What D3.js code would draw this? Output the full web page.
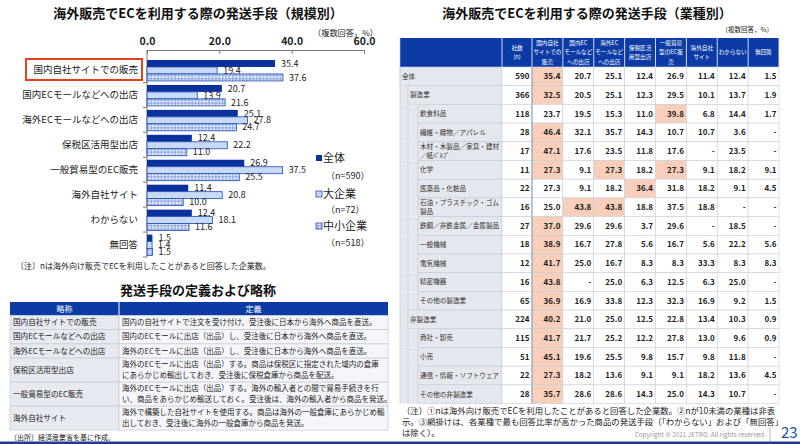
<!DOCTYPE html>
<html><head><meta charset="utf-8">
<script src="https://cdn.jsdelivr.net/npm/d3@7"></script>
<style>
body{margin:0;background:#fff;}
svg{display:block;font-family:"Noto Sans CJK JP","Noto Sans",sans-serif;}
</style></head><body>
<svg id="c" width="800" height="444"></svg>
<script>
// ---------- DATA ----------
const sizeCategories = ["国内自社サイトでの販売","国内ECモールなどへの出店","海外ECモールなどへの出店","保税区活用型出店","一般貿易型のEC販売","海外自社サイト","わからない","無回答"];
const seriesNames = ["全体","大企業","中小企業"];
const seriesN = ["（n=590）","（n=72）","（n=518）"];
const valuesAll   = [35.4,20.7,25.1,12.4,26.9,11.4,12.4,1.5];
const valuesLarge = [19.4,13.9,27.8,22.2,37.5,20.8,18.1,1.4];
const valuesSME   = [37.6,21.6,24.7,11.0,25.5,10.0,11.6,1.5];
const xTicks = [0,20,40,60];

const defAbbr = ["国内自社サイトでの販売","国内ECモールなどへの出店","海外ECモールなどへの出店","保税区活用型出店","一般貿易型のEC販売","海外自社サイト"];
const defText = [
 ["国内の自社サイトで注文を受け付け、受注後に日本から海外へ商品を直送。"],
 ["国内のECモールに出店（出品）し、受注後に日本から海外へ商品を直送。"],
 ["海外のECモールに出店（出品）し、受注後に日本から海外へ商品を直送。"],
 ["海外のECモールに出店（出品）する。商品は保税区に指定された域内の倉庫","にあらかじめ輸出しておき、受注後に保税倉庫から商品を配送。"],
 ["海外のECモールに出店（出品）する。海外の輸入者との間で貿易手続きを行","い、商品をあらかじめ輸送しておく。受注後は、海外の輸入者から商品を発送。"],
 ["海外で構築した自社サイトを使用する。商品は海外の一般倉庫にあらかじめ輸","出しておき、受注後に海外の一般倉庫から商品を発送。"]
];

const methodHeaders = ["国内自社\nサイトでの\n販売","国内EC\nモールなど\nへの出店","海外EC\nモールなど\nへの出店","保税区活\n用型出店","一般貿易\n型のEC販\n売","海外自社\nサイト","わからない","無回答"];
const industries = ["全体","製造業","飲食料品","繊維・織物／アパレル","木材・木製品／家具・建材\n／紙ﾊﾟﾙﾌﾟ","化学","医薬品・化粧品","石油・プラスチック・ゴム\n製品","鉄鋼／非鉄金属／金属製品","一般機械","電気機械","精密機器","その他の製造業","非製造業","商社・卸売","小売","通信・情報・ソフトウェア","その他の非製造業"];
const industryLevel = [0,1,2,2,2,2,2,2,2,2,2,2,2,1,2,2,2,2];
const industryN = [590,366,118,28,17,11,22,16,27,18,12,16,65,224,115,51,22,28];
const industryValues = [
 [35.4,20.7,25.1,12.4,26.9,11.4,12.4,1.5],
 [32.5,20.5,25.1,12.3,29.5,10.1,13.7,1.9],
 [23.7,19.5,15.3,11.0,39.8,6.8,14.4,1.7],
 [46.4,32.1,35.7,14.3,10.7,10.7,3.6,null],
 [47.1,17.6,23.5,11.8,17.6,null,23.5,null],
 [27.3,9.1,27.3,18.2,27.3,9.1,18.2,9.1],
 [27.3,9.1,18.2,36.4,31.8,18.2,9.1,4.5],
 [25.0,43.8,43.8,18.8,37.5,18.8,null,null],
 [37.0,29.6,29.6,3.7,29.6,null,18.5,null],
 [38.9,16.7,27.8,5.6,16.7,5.6,22.2,5.6],
 [41.7,25.0,16.7,8.3,8.3,33.3,8.3,8.3],
 [43.8,null,25.0,6.3,12.5,6.3,25.0,null],
 [36.9,16.9,33.8,12.3,32.3,16.9,9.2,1.5],
 [40.2,21.0,25.0,12.5,22.8,13.4,10.3,0.9],
 [41.7,21.7,25.2,12.2,27.8,13.0,9.6,0.9],
 [45.1,19.6,25.5,9.8,15.7,9.8,11.8,null],
 [27.3,18.2,13.6,9.1,9.1,18.2,13.6,4.5],
 [35.7,28.6,28.6,14.3,25.0,14.3,10.7,null]
];

// ---------- DRAW ----------
const svg = d3.select("#c");
svg.append("rect").attr("width",800).attr("height",444).attr("fill","#fff");
const DARK = "#0b319f", LIGHT = "#c9daf8", EDGE = "#1f4db3", HEAD = "#0c3ba6";

const defs = svg.append("defs");
const pat = defs.append("pattern").attr("id","dots").attr("patternUnits","userSpaceOnUse").attr("width",3.4).attr("height",3.5);
pat.append("rect").attr("width",3.4).attr("height",3.5).attr("fill","#eef3fd");
pat.append("circle").attr("cx",1.7).attr("cy",1.75).attr("r",1.05).attr("fill","none").attr("stroke","#3561c4").attr("stroke-width",0.6);

function txt(g, x, y, s, size, opts={}) {
  return g.append("text").attr("x",x).attr("y",y).attr("font-size",size)
    .attr("fill",opts.fill||"#222").attr("font-weight",opts.weight||"normal")
    .attr("text-anchor",opts.anchor||"start").attr("dy",opts.dy!==undefined?opts.dy:"0.35em").text(s);
}

// Left chart
const L = svg.append("g");
txt(L,198,13,"海外販売でECを利用する際の発送手段（規模別）",13,{anchor:"middle",weight:"bold",fill:"#111"});
txt(L,313,33,"（複数回答，%）",8.2,{});

const x = d3.scaleLinear().domain([0,60]).range([147,364]);
const y = d3.scaleBand().domain(sizeCategories).range([57.5,257]);
const ySub = d3.scaleBand().domain(seriesNames).range([2.5,y.bandwidth()-1.5]);
const seriesVals = [valuesAll,valuesLarge,valuesSME];
const seriesFill = [DARK,LIGHT,"url(#dots)"];

const gx = L.append("g").attr("transform","translate(0,50)")
  .call(d3.axisTop(x).tickValues(xTicks).tickFormat(d3.format(".1f")).tickSizeInner(-4).tickSizeOuter(0).tickPadding(5));
gx.select(".domain").attr("stroke","#777");
gx.selectAll(".tick line").attr("stroke","#777");
gx.selectAll("text").attr("font-size",10.5).attr("font-weight","bold").attr("fill","#222").attr("font-family",'"Noto Sans CJK JP",sans-serif');

L.append("line").attr("x1",x(0)).attr("x2",x(0)).attr("y1",50).attr("y2",y.range()[1]).attr("stroke","#777");
sizeCategories.forEach(c=>{
  L.append("line").attr("x1",x(0)-4).attr("x2",x(0)).attr("y1",y(c)+y.bandwidth()).attr("y2",y(c)+y.bandwidth()).attr("stroke","#777");
});

seriesNames.forEach((s,si)=>{
  sizeCategories.forEach((c,ci)=>{
    const v = seriesVals[si][ci];
    const r = L.append("rect").attr("x",x(0)).attr("y",y(c)+ySub(s))
      .attr("width",x(v)-x(0)).attr("height",ySub.bandwidth()).attr("fill",seriesFill[si]);
    if(si>0) r.attr("stroke",EDGE).attr("stroke-width",0.8);
    txt(L,x(v)+6,y(c)+ySub(s)+ySub.bandwidth()/2,d3.format(".1f")(v),9,{});
  });
});
sizeCategories.forEach(c=>{
  txt(L,138,y(c)+y.bandwidth()/2,c,9.5,{anchor:"end",fill:"#222"});
});
L.append("rect").attr("x",26).attr("y",59).attr("width",116).attr("height",21).attr("fill","none").attr("stroke","#e2431d").attr("stroke-width",2);

// legend
const legY = [[158,176],[194,210],[226,243]];
seriesNames.forEach((s,si)=>{
  const r = L.append("rect").attr("x",316).attr("y",legY[si][0]-3).attr("width",6).attr("height",6).attr("fill",seriesFill[si]);
  if(si>0) r.attr("stroke",EDGE).attr("stroke-width",0.8);
  txt(L,323,legY[si][0],s,11,{});
  txt(L,326,legY[si][1],seriesN[si],9,{});
});
txt(L,16,266,"〔注〕nは海外向け販売でECを利用したことがあると回答した企業数。",8,{});

// Definitions table
txt(L,198,290,"発送手段の定義および略称",13,{anchor:"middle",weight:"bold",fill:"#111"});
const tX0=10, tX1=119, tX2=388;
L.append("rect").attr("x",tX0).attr("y",302).attr("width",tX2-tX0).attr("height",13.5).attr("fill",HEAD);
L.append("line").attr("x1",tX1).attr("x2",tX1).attr("y1",302).attr("y2",315.5).attr("stroke","#fff");
txt(L,(tX0+tX1)/2,308.7,"略称",8,{anchor:"middle",fill:"#fff"});
txt(L,(tX1+tX2)/2,308.7,"定義",8,{anchor:"middle",fill:"#fff"});
let ty = 315.5;
defAbbr.forEach((a,i)=>{
  const h = defText[i].length===1 ? 14.2 : 24;
  L.append("rect").attr("x",tX0).attr("y",ty).attr("width",tX1-tX0).attr("height",h).attr("fill","#e6e9f0").attr("stroke","#c4cad8").attr("stroke-width",0.7);
  L.append("rect").attr("x",tX1).attr("y",ty).attr("width",tX2-tX1).attr("height",h).attr("fill","#f5f6fa").attr("stroke","#c4cad8").attr("stroke-width",0.7);
  txt(L,tX0+3,ty+h/2,a,7.6,{fill:"#222"});
  const n = defText[i].length;
  defText[i].forEach((line,li)=>{
    txt(L,tX1+3,ty+h/2+(li-(n-1)/2)*11.3,line,7.5,{fill:"#222"});
  });
  ty += h;
});
txt(L,10,438,"〔出所〕経済産業省を基に作成。",7,{});

// Right table
const R = svg.append("g");
txt(R,587,13,"海外販売でECを利用する際の発送手段（業種別）",13,{anchor:"middle",weight:"bold",fill:"#111"});
txt(R,773,30,"（複数回答，%）",6.5,{anchor:"end"});

const nameX0 = 400, nameX1 = 502, cntX1 = 532, tRight = 779, hTop = 38, hBot = 67;
const colX = d3.scaleBand().domain(methodHeaders).range([cntX1,tRight]);
const rowY = d3.scaleBand().domain(d3.range(industries.length)).range([hBot,403.6]);
const indentX = [400,408,418];

R.append("rect").attr("x",nameX0).attr("y",hTop).attr("width",tRight-nameX0).attr("height",hBot-hTop).attr("fill",HEAD);
[nameX1,cntX1].concat(methodHeaders.map(m=>colX(m)+colX.bandwidth())).forEach(xx=>{
  R.append("line").attr("x1",xx).attr("x2",xx).attr("y1",hTop).attr("y2",hBot).attr("stroke","#fff").attr("stroke-width",0.8);
});
function headLines(cx, s){
  const ls = s.split("\n");
  ls.forEach((l,i)=>txt(R,cx,52.5+(i-(ls.length-1)/2)*9.2,l,5.6,{anchor:"middle",fill:"#fff"}));
}
headLines((nameX1+cntX1)/2,"社数\n(n)");
methodHeaders.forEach(m=>headLines(colX(m)+colX.bandwidth()/2,m));

const fmt = d3.format(".1f");
industries.forEach((name,i)=>{
  const y0 = rowY(i), h = rowY.bandwidth(), lv = industryLevel[i], ix = indentX[lv];
  if(lv>0) R.append("rect").attr("x",nameX0).attr("y",y0).attr("width",ix-nameX0).attr("height",h).attr("fill","#e4e7ed");
  for(let k=1;k<=lv;k++){
    R.append("line").attr("x1",indentX[k]).attr("x2",indentX[k]).attr("y1",y0).attr("y2",y0+h).attr("stroke","#c3cad8").attr("stroke-width",0.6);
  }
  R.append("rect").attr("x",ix).attr("y",y0).attr("width",nameX1-ix).attr("height",h).attr("fill","#e4e7ed").attr("stroke","#c3cad8").attr("stroke-width",0.6);
  const nl = name.split("\n");
  nl.forEach((l,li)=>txt(R,ix+2,y0+h/2+(li-(nl.length-1)/2)*9.6,l,6.6,{fill:"#333"}));
  R.append("rect").attr("x",nameX1).attr("y",y0).attr("width",cntX1-nameX1).attr("height",h).attr("fill","#fff").attr("stroke","#c8cfdc").attr("stroke-width",0.6);
  txt(R,cntX1-2.5,y0+h/2,industryN[i],8,{anchor:"end",weight:"bold"});
  const vals = industryValues[i];
  const mx = d3.max(vals.slice(0,6));
  methodHeaders.forEach((m,ci)=>{
    const v = vals[ci];
    const hl = ci<6 && v===mx;
    R.append("rect").attr("x",colX(m)).attr("y",y0).attr("width",colX.bandwidth()).attr("height",h)
      .attr("fill",hl?"#f9cfbb":"#fff").attr("stroke","#c8cfdc").attr("stroke-width",0.6);
    txt(R,colX(m)+colX.bandwidth()-2.5,y0+h/2,v===null?"-":fmt(v),8,{anchor:"end",weight:"bold"});
  });
});
R.append("line").attr("x1",cntX1).attr("x2",cntX1).attr("y1",hBot).attr("y2",rowY.range()[1]).attr("stroke","#8d9cb9").attr("stroke-width",1);
R.append("line").attr("x1",nameX0).attr("x2",nameX0).attr("y1",hTop).attr("y2",rowY.range()[1]).attr("stroke","#c3cad8").attr("stroke-width",0.6);

const notes = ["（注）①nは海外向け販売でECを利用したことがあると回答した企業数。②nが10未満の業種は非表",
 "示。③網掛けは、各業種で最も回答比率が高かった商品の発送手段（「わからない」および「無回答」",
 "は除く）。"];
notes.forEach((l,i)=>txt(R,402,411.5+i*10.8,l,8.4,{}));
txt(R,766,435,"Copyright © 2021 JETRO. All rights reserved.",6.4,{anchor:"end",fill:"#999"});
R.append("line").attr("x1",770).attr("x2",770).attr("y1",427).attr("y2",441).attr("stroke","#aaa").attr("stroke-width",0.8);
txt(R,781,433,"23",15,{fill:"#1e4fa3"});
svg.append("rect").attr("x",0).attr("y",441.5).attr("width",800).attr("height",2.5).attr("fill","#1a3d8f");
</script></body></html>
